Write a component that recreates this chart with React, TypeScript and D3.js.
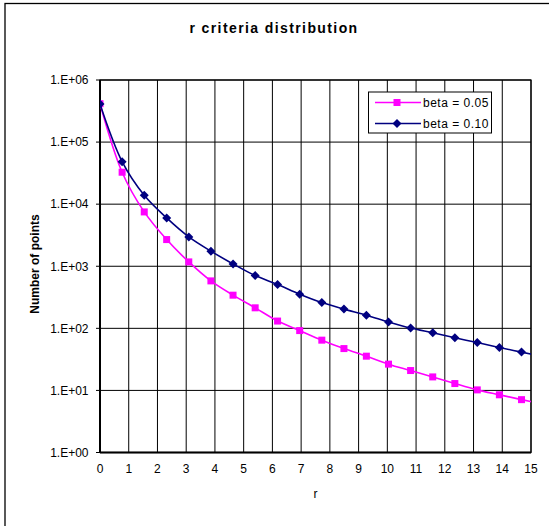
import React from "react";
import * as d3 from "d3";

const title = "r criteria distribution";
const xLabel = "r";
const yLabel = "Number of points";
const xTicks = [0, 1, 2, 3, 4, 5, 6, 7, 8, 9, 10, 11, 12, 13, 14, 15];
const yTicks = [1, 10, 100, 1000, 10000, 100000, 1000000];
const yTickLabels = ["1.E+00", "1.E+01", "1.E+02", "1.E+03", "1.E+04", "1.E+05", "1.E+06"];

const rValues = [0, 0.77, 1.54, 2.32, 3.09, 3.86, 4.63, 5.4, 6.18, 6.95, 7.72, 8.49, 9.27, 10.04, 10.81, 11.58, 12.35, 13.13, 13.9, 14.67, 15.44];
const beta005 = [415000, 32700, 7500, 2690, 1175, 581, 342, 214, 131, 92, 64.5, 47.2, 35.6, 26.5, 20.9, 16.5, 12.9, 10.2, 8.5, 7.1, 5.97];
const beta010 = [411000, 48400, 13900, 6000, 2970, 1750, 1090, 707, 507, 355, 260, 204, 163, 127, 101, 84.6, 70.3, 59, 49.1, 41.4, 34.8];

const seriesNames = ["beta = 0.05", "beta = 0.10"];
const seriesColors = ["#FF00FF", "#000080"];

const W = 549;
const H = 526;
const plot = { left: 100, right: 531, top: 80, bottom: 452.5 };

export default function App() {
  const x = d3.scaleLinear().domain([0, 15]).range([plot.left, plot.right]);
  const y = d3.scaleLog().domain([1, 1000000]).range([plot.bottom, plot.top]);
  const series = [beta005, beta010];
  const line = d3
    .line<[number, number]>()
    .x((d) => x(d[0]))
    .y((d) => y(d[1]))
    .curve(d3.curveCatmullRom.alpha(0.5));

  const font = "'Liberation Sans', Arial, sans-serif";

  const marker = (i: number, cx: number, cy: number, key: any) =>
    i === 0 ? (
      <rect key={key} x={cx - 3.5} y={cy - 3.5} width={7} height={7} fill={seriesColors[0]} />
    ) : (
      <path key={key} d={`M${cx},${cy - 4.5}L${cx + 4.5},${cy}L${cx},${cy + 4.5}L${cx - 4.5},${cy}Z`} fill={seriesColors[1]} />
    );

  return (
    <svg
      width={W}
      height={H}
      style={{ position: "absolute", left: 0, top: 0, background: "#fff" }}
      fontFamily={font}
    >
      <defs>
        <clipPath id="plotClip">
          <rect x={plot.left} y={plot.top} width={plot.right - plot.left} height={plot.bottom - plot.top} />
        </clipPath>
      </defs>
      <rect x={5} y={3.5} width={W + 10} height={H + 10} fill="#fff" stroke="#000" strokeWidth={1.3} />
      <text x={274} y={33} textAnchor="middle" fontSize={14} fontWeight="bold" letterSpacing={1.4}>
        {title}
      </text>

      {/* grid */}
      {xTicks.map((t) => (
        <line key={"gx" + t} x1={x(t)} x2={x(t)} y1={plot.top} y2={plot.bottom} stroke="#000" strokeWidth={1} />
      ))}
      {yTicks.map((t) => (
        <line key={"gy" + t} x1={plot.left - 4} x2={plot.right} y1={y(t)} y2={y(t)} stroke="#000" strokeWidth={1} />
      ))}
      <rect
        x={plot.left}
        y={plot.top}
        width={plot.right - plot.left}
        height={plot.bottom - plot.top}
        fill="none"
        stroke="#000"
        strokeWidth={1.2}
      />
      <line x1={plot.left} x2={plot.left} y1={plot.top} y2={plot.bottom} stroke="#000" strokeWidth={2} />
      <line x1={plot.left} x2={plot.right} y1={plot.bottom} y2={plot.bottom} stroke="#000" strokeWidth={2} />

      {/* tick labels */}
      {yTicks.map((t, i) => (
        <text key={"ly" + t} x={88.5} y={y(t) + 4.3} textAnchor="end" fontSize={12}>
          {yTickLabels[i]}
        </text>
      ))}
      {xTicks.map((t) => (
        <text key={"lx" + t} x={x(t)} y={472.5} textAnchor="middle" fontSize={12}>
          {t}
        </text>
      ))}
      <text x={(plot.left + plot.right) / 2} y={497.5} textAnchor="middle" fontSize={12}>
        {xLabel}
      </text>
      <text
        transform={`translate(38.5,264) rotate(-90)`}
        textAnchor="middle"
        fontSize={12}
        fontWeight="bold"
      >
        {yLabel}
      </text>

      {/* series */}
      <g clipPath="url(#plotClip)">
        {series.map((vals, si) => {
          const pts = rValues.map((r, i) => [r, vals[i]] as [number, number]);
          return (
            <g key={"s" + si}>
              <path d={line(pts) || ""} fill="none" stroke={seriesColors[si]} strokeWidth={1.6} />
              {pts
                .filter((p) => p[0] <= 15)
                .map((p, i) => marker(si, x(p[0]), y(p[1]), "m" + si + "-" + i))}
            </g>
          );
        })}
      </g>

      {/* legend */}
      <rect x={368.5} y={92} width={123} height={41} fill="#fff" stroke="#000" strokeWidth={1} />
      {seriesNames.map((n, i) => {
        const ly = 102.5 + i * 21;
        return (
          <g key={"lg" + i}>
            <line x1={375} x2={421} y1={ly} y2={ly} stroke={seriesColors[i]} strokeWidth={1.6} />
            {marker(i, 397, ly, "lm" + i)}
            <text x={423} y={ly + 4.3} fontSize={12} letterSpacing={0.5}>
              {n}
            </text>
          </g>
        );
      })}
    </svg>
  );
}
